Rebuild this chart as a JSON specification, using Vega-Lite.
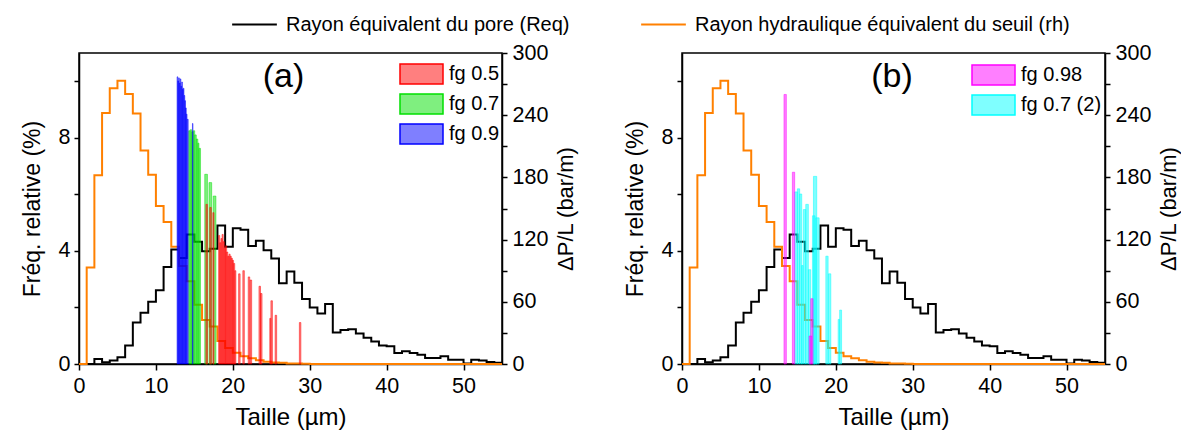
{
  "$schema": "https://vega.github.io/schema/vega-lite/v6.json",
  "padding": {"left": 20, "top": 0, "right": 0, "bottom": 0},
  "background": "white",
  "config": {
    "font": "Liberation Sans",
    "view": {"stroke": "black", "strokeWidth": 1.5},
    "axis": {"grid": false, "domainColor": "black", "domainWidth": 1.5, "tickColor": "black", "tickWidth": 1.5, "tickSize": 5, "labelFontSize": 21.5, "labelColor": "black", "labelFont": "Liberation Sans", "titleFontSize": 23, "titleFontWeight": "normal", "titleColor": "black", "titleFont": "Liberation Sans"},
    "legend": {"labelFontSize": 20, "labelFont": "Liberation Sans", "labelColor": "black", "padding": 0, "labelLimit": 600}
  },
  "datasets": {
    "lines": [
      {"x":0,"v":0,"s":"pore"},{"x":1,"v":0,"s":"pore"},{"x":2,"v":0.18,"s":"pore"},{"x":3,"v":0.06,"s":"pore"},{"x":4,"v":0.12,"s":"pore"},{"x":5,"v":0.24,"s":"pore"},{"x":6,"v":0.65,"s":"pore"},{"x":7,"v":1.47,"s":"pore"},{"x":8,"v":1.81,"s":"pore"},{"x":9,"v":2.2,"s":"pore"},{"x":10,"v":2.61,"s":"pore"},{"x":11,"v":3.43,"s":"pore"},{"x":12,"v":4.05,"s":"pore"},{"x":13,"v":3.75,"s":"pore"},{"x":14,"v":4.58,"s":"pore"},{"x":15,"v":4.32,"s":"pore"},{"x":16,"v":3.99,"s":"pore"},{"x":17,"v":4.08,"s":"pore"},{"x":18,"v":4.9,"s":"pore"},{"x":19,"v":4.15,"s":"pore"},{"x":20,"v":4.8,"s":"pore"},{"x":21,"v":4.75,"s":"pore"},{"x":22,"v":4.17,"s":"pore"},{"x":23,"v":4.36,"s":"pore"},{"x":24,"v":4.02,"s":"pore"},{"x":25,"v":3.73,"s":"pore"},{"x":26,"v":2.86,"s":"pore"},{"x":27,"v":3.27,"s":"pore"},{"x":28,"v":2.87,"s":"pore"},{"x":29,"v":2.3,"s":"pore"},{"x":30,"v":2.0,"s":"pore"},{"x":31,"v":1.79,"s":"pore"},{"x":32,"v":2.12,"s":"pore"},{"x":33,"v":1.11,"s":"pore"},{"x":34,"v":1.2,"s":"pore"},{"x":35,"v":1.23,"s":"pore"},{"x":36,"v":1.08,"s":"pore"},{"x":37,"v":0.93,"s":"pore"},{"x":38,"v":0.8,"s":"pore"},{"x":39,"v":0.65,"s":"pore"},{"x":40,"v":0.63,"s":"pore"},{"x":41,"v":0.39,"s":"pore"},{"x":42,"v":0.45,"s":"pore"},{"x":43,"v":0.39,"s":"pore"},{"x":44,"v":0.33,"s":"pore"},{"x":45,"v":0.21,"s":"pore"},{"x":46,"v":0.21,"s":"pore"},{"x":47,"v":0.27,"s":"pore"},{"x":48,"v":0.15,"s":"pore"},{"x":49,"v":0.15,"s":"pore"},{"x":50,"v":0.02,"s":"pore"},{"x":51,"v":0.15,"s":"pore"},{"x":52,"v":0.12,"s":"pore"},{"x":53,"v":0.07,"s":"pore"},{"x":54,"v":0.04,"s":"pore"},{"x":55,"v":0.04,"s":"pore"},
      {"x":0,"v":0,"s":"seuil"},{"x":1,"v":3.41,"s":"seuil"},{"x":2,"v":6.68,"s":"seuil"},{"x":3,"v":8.88,"s":"seuil"},{"x":4,"v":9.75,"s":"seuil"},{"x":5,"v":10.02,"s":"seuil"},{"x":6,"v":9.55,"s":"seuil"},{"x":7,"v":8.86,"s":"seuil"},{"x":8,"v":7.55,"s":"seuil"},{"x":9,"v":6.69,"s":"seuil"},{"x":10,"v":5.59,"s":"seuil"},{"x":11,"v":5.02,"s":"seuil"},{"x":12,"v":4.15,"s":"seuil"},{"x":13,"v":3.47,"s":"seuil"},{"x":14,"v":2.93,"s":"seuil"},{"x":15,"v":2.1,"s":"seuil"},{"x":16,"v":1.56,"s":"seuil"},{"x":17,"v":1.33,"s":"seuil"},{"x":18,"v":0.81,"s":"seuil"},{"x":19,"v":0.57,"s":"seuil"},{"x":20,"v":0.4,"s":"seuil"},{"x":21,"v":0.27,"s":"seuil"},{"x":22,"v":0.2,"s":"seuil"},{"x":23,"v":0.13,"s":"seuil"},{"x":24,"v":0.08,"s":"seuil"},{"x":25,"v":0.05,"s":"seuil"},{"x":26,"v":0.04,"s":"seuil"},{"x":27,"v":0.02,"s":"seuil"},{"x":28,"v":0.02,"s":"seuil"},{"x":29,"v":0.01,"s":"seuil"},{"x":30,"v":0,"s":"seuil"},{"x":55,"v":0,"s":"seuil"}
    ],
    "barsA": [
      {"a":14.26,"b":14.45,"p":225,"s":"fg 0.7"},{"a":14.45,"b":14.65,"p":226,"s":"fg 0.7"},{"a":14.65,"b":14.85,"p":224,"s":"fg 0.7"},{"a":14.85,"b":15.05,"p":225,"s":"fg 0.7"},{"a":15.05,"b":15.25,"p":221,"s":"fg 0.7"},{"a":15.25,"b":15.45,"p":217,"s":"fg 0.7"},{"a":15.45,"b":15.6,"p":213,"s":"fg 0.7"},{"a":15.6,"b":15.8,"p":208,"s":"fg 0.7"},{"a":16.35,"b":16.7,"p":183,"s":"fg 0.7"},{"a":16.9,"b":17.25,"p":175,"s":"fg 0.7"},{"a":17.45,"b":17.8,"p":162,"s":"fg 0.7"},
      {"a":16.5,"b":16.7,"p":154,"s":"fg 0.5"},{"a":17.0,"b":17.2,"p":151,"s":"fg 0.5"},{"a":17.4,"b":17.55,"p":146,"s":"fg 0.5"},{"a":18.15,"b":18.3,"p":124,"s":"fg 0.5"},{"a":18.3,"b":18.45,"p":117,"s":"fg 0.5"},{"a":18.45,"b":18.6,"p":121,"s":"fg 0.5"},{"a":18.6,"b":18.75,"p":125,"s":"fg 0.5"},{"a":18.75,"b":18.9,"p":118,"s":"fg 0.5"},{"a":18.9,"b":19.05,"p":112,"s":"fg 0.5"},{"a":19.05,"b":19.2,"p":114,"s":"fg 0.5"},{"a":19.2,"b":19.35,"p":108,"s":"fg 0.5"},{"a":19.35,"b":19.5,"p":104,"s":"fg 0.5"},{"a":19.5,"b":19.65,"p":106,"s":"fg 0.5"},{"a":19.65,"b":19.8,"p":104,"s":"fg 0.5"},{"a":19.8,"b":19.95,"p":102,"s":"fg 0.5"},{"a":19.95,"b":20.1,"p":100,"s":"fg 0.5"},{"a":20.1,"b":20.25,"p":97,"s":"fg 0.5"},{"a":20.25,"b":20.4,"p":90,"s":"fg 0.5"},{"a":20.75,"b":20.95,"p":87,"s":"fg 0.5"},{"a":21.3,"b":21.5,"p":90,"s":"fg 0.5"},{"a":22.0,"b":22.2,"p":84,"s":"fg 0.5"},{"a":22.25,"b":22.45,"p":81,"s":"fg 0.5"},{"a":23.4,"b":23.6,"p":75,"s":"fg 0.5"},{"a":23.6,"b":23.8,"p":68,"s":"fg 0.5"},{"a":24.8,"b":24.95,"p":44,"s":"fg 0.5"},{"a":24.95,"b":25.15,"p":61,"s":"fg 0.5"},{"a":25.5,"b":25.7,"p":47,"s":"fg 0.5"},{"a":28.65,"b":28.85,"p":40,"s":"fg 0.5"},
      {"a":12.75,"b":12.85,"p":277,"s":"fg 0.9"},{"a":12.85,"b":12.95,"p":273,"s":"fg 0.9"},{"a":12.95,"b":13.05,"p":276,"s":"fg 0.9"},{"a":13.05,"b":13.15,"p":271,"s":"fg 0.9"},{"a":13.15,"b":13.25,"p":275,"s":"fg 0.9"},{"a":13.25,"b":13.35,"p":268,"s":"fg 0.9"},{"a":13.35,"b":13.45,"p":272,"s":"fg 0.9"},{"a":13.45,"b":13.55,"p":265,"s":"fg 0.9"},{"a":13.55,"b":13.65,"p":266,"s":"fg 0.9"},{"a":13.65,"b":13.75,"p":259,"s":"fg 0.9"},{"a":13.75,"b":13.85,"p":254,"s":"fg 0.9"},{"a":13.85,"b":13.95,"p":247,"s":"fg 0.9"},{"a":13.95,"b":14.05,"p":241,"s":"fg 0.9"},{"a":14.05,"b":14.2,"p":236,"s":"fg 0.9"},{"a":14.75,"b":14.82,"p":232,"s":"fg 0.9"}
    ],
    "barsB": [
      {"a":14.65,"b":15.0,"p":166,"s":"fg 0.7 (2)"},{"a":15.0,"b":15.3,"p":169,"s":"fg 0.7 (2)"},{"a":15.3,"b":15.57,"p":164,"s":"fg 0.7 (2)"},{"a":15.55,"b":15.75,"p":95,"s":"fg 0.7 (2)"},{"a":15.78,"b":16.09,"p":149,"s":"fg 0.7 (2)"},{"a":16.09,"b":16.43,"p":154,"s":"fg 0.7 (2)"},{"a":16.43,"b":16.74,"p":91,"s":"fg 0.7 (2)"},{"a":16.96,"b":17.3,"p":143,"s":"fg 0.7 (2)"},{"a":17.09,"b":17.52,"p":181,"s":"fg 0.7 (2)"},{"a":17.39,"b":17.83,"p":141,"s":"fg 0.7 (2)"},{"a":18.7,"b":19.0,"p":104,"s":"fg 0.7 (2)"},{"a":19.04,"b":19.35,"p":87,"s":"fg 0.7 (2)"},{"a":20.3,"b":20.5,"p":43,"s":"fg 0.7 (2)"},{"a":20.5,"b":20.75,"p":52,"s":"fg 0.7 (2)"},
      {"a":13.26,"b":13.57,"p":260,"s":"fg 0.98"},{"a":14.35,"b":14.65,"p":185,"s":"fg 0.98"},{"a":16.52,"b":16.87,"p":27,"s":"fg 0.98"},{"a":16.74,"b":17.04,"p":63,"s":"fg 0.98"}
    ]
  },
  "spacing": 45,
  "resolve": {"scale": {"stroke": "independent", "fill": "independent"}, "legend": {"stroke": "independent", "fill": "independent"}},
  "hconcat": [
    {
      "width": 423,
      "height": 311,
      "layer": [
        {
          "data": {"name": "lines"},
          "mark": {"type": "line", "interpolate": "step-after", "strokeWidth": 2},
          "encoding": {
            "x": {"field": "x", "type": "quantitative", "scale": {"domain": [0, 55], "nice": false, "zero": false},
                  "axis": {"title": "Taille (µm)", "titleFontSize": 24, "values": [0,5,10,15,20,25,30,35,40,45,50,55], "labelExpr": "datum.value % 10 === 0 ? datum.label : ''", "labelFlush": false, "labelOverlap": false, "labelPadding": 5, "titlePadding": 9, "tickSize": 6}},
            "y": {"field": "v", "type": "quantitative", "scale": {"domain": [0, 11], "nice": false},
                  "axis": {"title": "Fréq. relative (%)", "values": [0,2,4,6,8,10], "labelExpr": "datum.value % 4 === 0 ? datum.label : ''", "labelPadding": 4, "titlePadding": 14}},
            "stroke": {"field": "s", "type": "nominal", "scale": {"domain": ["pore", "seuil"], "range": ["#000000", "#ff8000"]},
                       "legend": {"orient": "none", "legendX": 152, "legendY": -52, "values": ["pore"], "title": null, "symbolType": "stroke", "symbolSize": 2000, "symbolStrokeWidth": 2, "labelOffset": 8, "labelExpr": "datum.value == 'pore' ? 'Rayon équivalent du pore (Req)' : 'Rayon hydraulique équivalent du seuil (rh)'"}}
          }
        },
        {
          "data": {"name": "barsA"},
          "mark": {"type": "rect", "fillOpacity": 0.5, "strokeWidth": 0.6, "strokeOpacity": 0.8},
          "encoding": {
            "x": {"field": "a", "type": "quantitative"},
            "x2": {"field": "b"},
            "y": {"field": "p", "type": "quantitative", "scale": {"domain": [0, 300], "nice": false},
                  "axis": {"orient": "right", "title": "ΔP/L (bar/m)", "titleFontSize": 22, "values": [0,30,60,90,120,150,180,210,240,270,300], "labelExpr": "datum.value % 60 === 0 ? datum.label : ''", "labelPadding": 5, "titlePadding": 8, "titleAngle": 270, "titleBaseline": "top"}},
            "y2": {"datum": 0},
            "fill": {"field": "s", "type": "nominal", "scale": {"domain": ["fg 0.5", "fg 0.7", "fg 0.9"], "range": ["#ff0000", "#00e000", "#0000ff"]},
                     "legend": {"orient": "none", "legendX": 320, "legendY": 10, "title": null, "symbolType": "M-1,-1H3.3V1H-1Z", "symbolSize": 400, "labelOffset": 28, "rowPadding": 4,
                                "encode": {"symbols": {"update": {"stroke": {"signal": "datum.value == 'fg 0.5' ? '#ff0000' : datum.value == 'fg 0.7' ? '#00e000' : '#0000ff'"}, "strokeWidth": {"value": 1.5}, "fillOpacity": {"value": 0.5}}}}}},
            "stroke": {"field": "s", "type": "nominal", "scale": {"domain": ["fg 0.5", "fg 0.7", "fg 0.9"], "range": ["#ff0000", "#00e000", "#0000ff"]}, "legend": null}
          }
        },
        {
          "data": {"values": [{}]},
          "mark": {"type": "text", "fontSize": 34, "font": "Liberation Sans", "align": "center", "baseline": "middle", "text": "(a)"},
          "encoding": {
            "x": {"datum": 26.6, "type": "quantitative"},
            "y": {"datum": 277, "type": "quantitative", "scale": {"domain": [0, 300], "nice": false}, "axis": null}
          }
        }
      ],
      "resolve": {"scale": {"y": "independent", "stroke": "independent"}}
    },
    {
      "width": 423,
      "height": 311,
      "layer": [
        {
          "data": {"name": "lines"},
          "mark": {"type": "line", "interpolate": "step-after", "strokeWidth": 2},
          "encoding": {
            "x": {"field": "x", "type": "quantitative", "scale": {"domain": [0, 55], "nice": false, "zero": false},
                  "axis": {"title": "Taille (µm)", "titleFontSize": 24, "values": [0,5,10,15,20,25,30,35,40,45,50,55], "labelExpr": "datum.value % 10 === 0 ? datum.label : ''", "labelFlush": false, "labelOverlap": false, "labelPadding": 5, "titlePadding": 9, "tickSize": 6}},
            "y": {"field": "v", "type": "quantitative", "scale": {"domain": [0, 11], "nice": false},
                  "axis": {"title": "Fréq. relative (%)", "values": [0,2,4,6,8,10], "labelExpr": "datum.value % 4 === 0 ? datum.label : ''", "labelPadding": 4, "titlePadding": 14}},
            "stroke": {"field": "s", "type": "nominal", "scale": {"domain": ["pore", "seuil"], "range": ["#000000", "#ff8000"]},
                       "legend": {"orient": "none", "legendX": -42, "legendY": -52, "values": ["seuil"], "title": null, "symbolType": "stroke", "symbolSize": 2000, "symbolStrokeWidth": 2, "labelOffset": 8, "labelExpr": "datum.value == 'pore' ? 'Rayon équivalent du pore (Req)' : 'Rayon hydraulique équivalent du seuil (rh)'"}}
          }
        },
        {
          "data": {"name": "barsB"},
          "mark": {"type": "rect", "fillOpacity": 0.5, "strokeWidth": 0.6, "strokeOpacity": 0.8},
          "encoding": {
            "x": {"field": "a", "type": "quantitative"},
            "x2": {"field": "b"},
            "y": {"field": "p", "type": "quantitative", "scale": {"domain": [0, 300], "nice": false},
                  "axis": {"orient": "right", "title": "ΔP/L (bar/m)", "titleFontSize": 22, "values": [0,30,60,90,120,150,180,210,240,270,300], "labelExpr": "datum.value % 60 === 0 ? datum.label : ''", "labelPadding": 5, "titlePadding": 8, "titleAngle": 270, "titleBaseline": "top"}},
            "y2": {"datum": 0},
            "fill": {"field": "s", "type": "nominal", "scale": {"domain": ["fg 0.98", "fg 0.7 (2)"], "range": ["#ff00ff", "#00ffff"]},
                     "legend": {"orient": "none", "legendX": 289, "legendY": 11, "title": null, "symbolType": "M-1,-1H3.3V1H-1Z", "symbolSize": 400, "labelOffset": 28, "rowPadding": 4,
                                "encode": {"symbols": {"update": {"stroke": {"signal": "datum.value == 'fg 0.98' ? '#ff00ff' : '#00ffff'"}, "strokeWidth": {"value": 1.5}, "fillOpacity": {"value": 0.5}}}}}},
            "stroke": {"field": "s", "type": "nominal", "scale": {"domain": ["fg 0.98", "fg 0.7 (2)"], "range": ["#ff00ff", "#00ffff"]}, "legend": null}
          }
        },
        {
          "data": {"values": [{}]},
          "mark": {"type": "text", "fontSize": 34, "font": "Liberation Sans", "align": "center", "baseline": "middle", "text": "(b)"},
          "encoding": {
            "x": {"datum": 27.3, "type": "quantitative"},
            "y": {"datum": 277, "type": "quantitative", "scale": {"domain": [0, 300], "nice": false}, "axis": null}
          }
        }
      ],
      "resolve": {"scale": {"y": "independent", "stroke": "independent"}}
    }
  ]
}
